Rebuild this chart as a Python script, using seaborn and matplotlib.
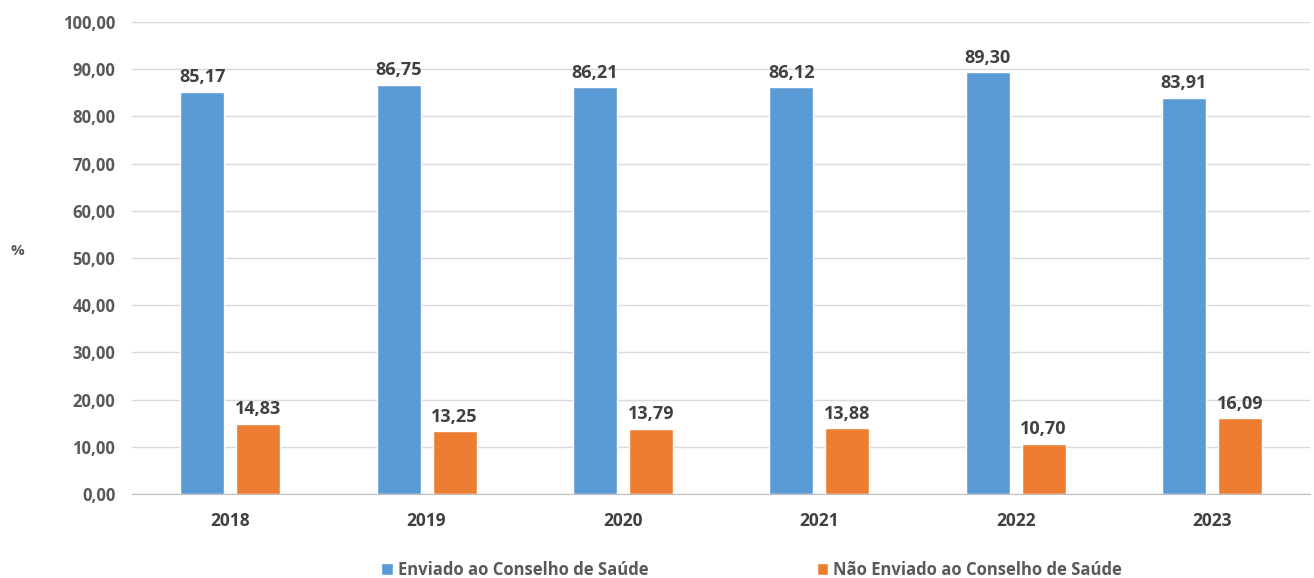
import matplotlib
matplotlib.use('Agg')
import matplotlib.pyplot as plt
import pandas as pd
import seaborn as sns

anos = ['2018', '2019', '2020', '2021', '2022', '2023']
enviado = [85.17, 86.75, 86.21, 86.12, 89.30, 83.91]
nao_enviado = [14.83, 13.25, 13.79, 13.88, 10.70, 16.09]
series = ['Enviado ao Conselho de Saúde', 'Não Enviado ao Conselho de Saúde']
cores = ['#5b9bd5', '#ed7d31']

df = pd.DataFrame({'ano': anos * 2,
                   'valor': enviado + nao_enviado,
                   'serie': [series[0]] * len(anos) + [series[1]] * len(anos)})

sns.set_style('white')
plt.rcParams['font.family'] = ['Open Sans', 'DejaVu Sans']

fig = plt.figure(figsize=(13.14, 5.78), dpi=100)
ax = fig.add_axes([0.1005, 0.1453, 0.8965, 0.8167])

sns.barplot(data=df, x='ano', y='valor', hue='serie', palette=cores,
            width=0.571, gap=0.214, ax=ax, saturation=1, legend=True)

ax.set_ylim(0, 100)
ax.set_yticks(range(0, 101, 10))
ax.set_yticklabels([f'{v:.2f}'.replace('.', ',') for v in range(0, 101, 10)],
                   fontsize=12, fontweight='bold', color='#595959')
ax.set_xlim(-0.5, len(anos) - 0.5)
for lab in ax.get_xticklabels():
    lab.set_fontsize(12.5)
    lab.set_fontweight('bold')
    lab.set_color('#404040')
ax.tick_params(axis='y', length=0, pad=12)
ax.tick_params(axis='x', length=0, pad=13)
ax.grid(axis='y', color='#d9d9d9', linewidth=1)
ax.set_axisbelow(True)
for s in ['top', 'right', 'left']:
    ax.spines[s].set_visible(False)
ax.spines['bottom'].set_color('#bfbfbf')
ax.set_xlabel('')
ax.set_ylabel('%', rotation=0, fontsize=11, fontweight='bold', color='#595959')
ax.yaxis.set_label_coords(-0.097, 0.5)

for cont in ax.containers:
    ax.bar_label(cont, labels=[f'{v:.2f}'.replace('.', ',') for v in cont.datavalues],
                 padding=4, fontsize=13, fontweight='bold', color='#404040')

leg = ax.legend(loc='upper center', bbox_to_anchor=(0.526, -0.11), ncol=2,
                frameon=False, fontsize=12, handlelength=0.7, handleheight=0.7,
                handletextpad=0.3, columnspacing=10.1)
for t in leg.get_texts():
    t.set_color('#595959')
    t.set_fontweight('bold')

fig.savefig('out.png', dpi=100)
